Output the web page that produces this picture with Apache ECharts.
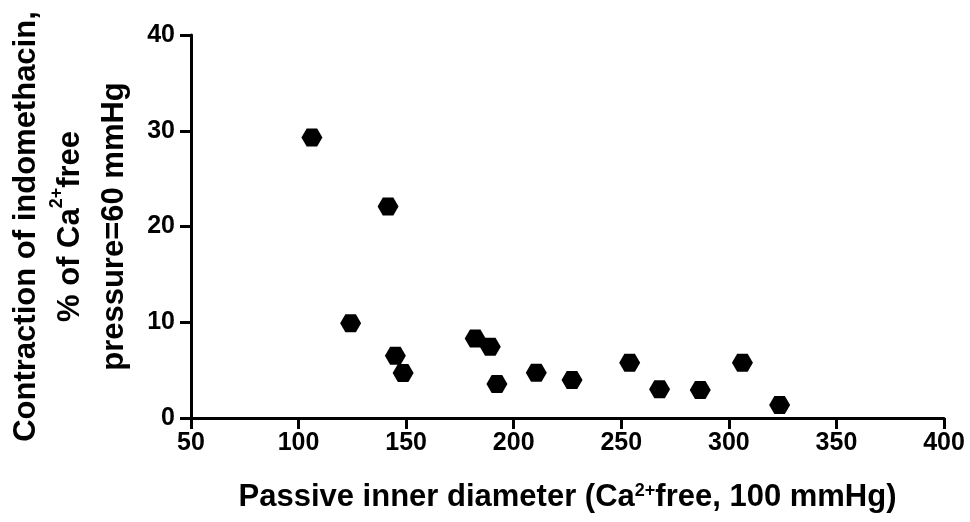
<!DOCTYPE html>
<html>
<head>
<meta charset="utf-8">
<script src="https://cdn.jsdelivr.net/npm/echarts@6/dist/echarts.min.js"></script>
<style>html,body{margin:0;padding:0;background:#fff}#c{width:970px;height:522px}</style>
</head>
<body>
<div id="c"></div>
<script>
const diameter = [106.2, 141.6, 124.2, 145.0, 148.6, 182.1, 189.1, 192.2, 210.5, 227.1, 253.9, 267.8, 286.7, 306.3, 323.6];
const contraction = [29.3, 22.1, 9.9, 6.5, 4.7, 8.3, 7.45, 3.55, 4.73, 3.97, 5.78, 3.0, 2.92, 5.78, 1.36];
const xTicks = [50, 100, 150, 200, 250, 300, 350, 400];
const yTicks = [0, 10, 20, 30, 40];

const font = 'Liberation Sans, Arial, sans-serif';
const points = diameter.map((d, i) => [d, contraction[i]]);
const sup = { fontSize: 18, fontWeight: 'bold', fontFamily: font, color: '#000', verticalAlign: 'top', lineHeight: 18 };

const chart = echarts.init(document.getElementById('c'));
chart.setOption({
  animation: false,
  backgroundColor: '#fff',
  grid: { left: 191, right: 26, top: 35, bottom: 104, containLabel: false, outerBoundsMode: 'none' },
  xAxis: {
    type: 'value', min: xTicks[0], max: xTicks[xTicks.length - 1], interval: 50,
    splitLine: { show: false },
    axisLine: { lineStyle: { color: '#000', width: 3 } },
    axisTick: { length: 11, lineStyle: { color: '#000', width: 3 } },
    axisLabel: { color: '#000', fontSize: 25, fontWeight: 'bold', fontFamily: font, margin: 13 },
    name: 'Passive inner diameter (Ca{sup|2+}free, 100 mmHg)',
    nameLocation: 'middle', nameGap: 64,
    nameTextStyle: { color: '#000', fontSize: 31, fontWeight: 'bold', fontFamily: font, rich: { sup: sup } }
  },
  yAxis: {
    type: 'value', min: yTicks[0], max: yTicks[yTicks.length - 1], interval: 10,
    splitLine: { show: false },
    axisLine: { lineStyle: { color: '#000', width: 3 } },
    axisTick: { length: 11, lineStyle: { color: '#000', width: 3 } },
    axisLabel: { color: '#000', fontSize: 25, fontWeight: 'bold', fontFamily: font, margin: 16 },
    name: 'Contraction of indomethacin,\n% of Ca{sup|2+}free\npressure=60 mmHg',
    nameLocation: 'middle', nameGap: 55, nameRotate: 90,
    nameTextStyle: { color: '#000', fontSize: 31, fontWeight: 'bold', fontFamily: font, lineHeight: 44, align: 'center', rich: { sup: sup } }
  },
  series: [{
    type: 'scatter',
    data: points,
    symbol: 'path://M0,5 L3,0 L9,0 L12,5 L9,10 L3,10 Z',
    symbolSize: [21, 18],
    itemStyle: { color: '#000', opacity: 1 }
  }]
});
</script>
</body>
</html>
